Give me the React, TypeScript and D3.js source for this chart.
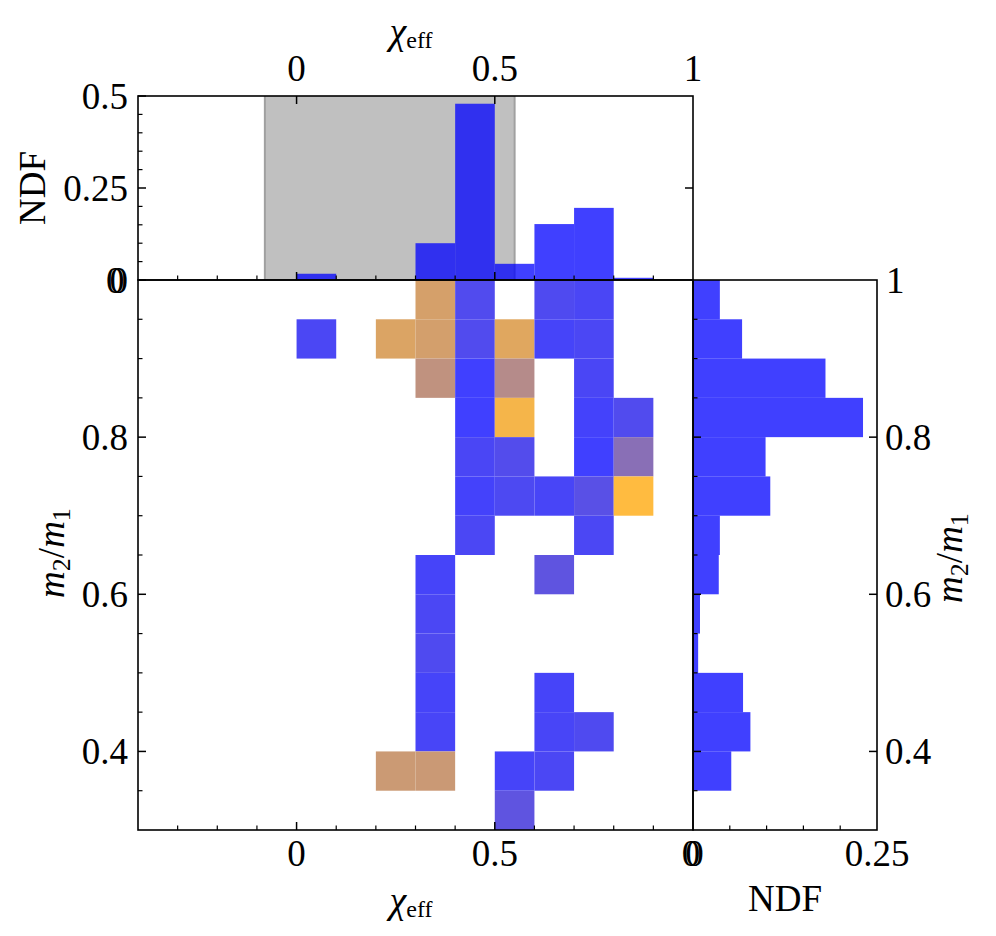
import React from 'react';
import * as d3 from 'd3';

// ---------- data ----------
// top marginal histogram (chi_eff bins, left edges) and normalized fractions
const chiTopBins = [0.0, 0.3, 0.4, 0.5, 0.6, 0.7, 0.8];
const chiTopNdf = [0.017, 0.1, 0.479, 0.044, 0.152, 0.196, 0.006];

// right marginal histogram (q = m2/m1 bins, lower edges) and fractions
const qRightBins = [0.95, 0.9, 0.85, 0.8, 0.75, 0.7, 0.65, 0.6, 0.55, 0.5, 0.45, 0.4, 0.35];
const qRightNdf = [0.0365, 0.0667, 0.18, 0.231, 0.0986, 0.105, 0.0365, 0.035, 0.0095, 0.007, 0.068, 0.078, 0.052];

// 2D histogram cells: chi bin (left edge), q bin (lower edge), share of the orange population
const cellChi = [
  0.3, 0.4, 0.6, 0.7,
  0.0, 0.2, 0.3, 0.4, 0.5, 0.6, 0.7,
  0.3, 0.4, 0.5, 0.7,
  0.4, 0.5, 0.7, 0.8,
  0.4, 0.5, 0.7, 0.8,
  0.4, 0.5, 0.6, 0.7, 0.8,
  0.4, 0.7,
  0.3, 0.6,
  0.3,
  0.3,
  0.3, 0.6,
  0.3, 0.6, 0.7,
  0.2, 0.3, 0.5, 0.6,
  0.5,
];
const cellQ = [
  0.95, 0.95, 0.95, 0.95,
  0.9, 0.9, 0.9, 0.9, 0.9, 0.9, 0.9,
  0.85, 0.85, 0.85, 0.85,
  0.8, 0.8, 0.8, 0.8,
  0.75, 0.75, 0.75, 0.75,
  0.7, 0.7, 0.7, 0.7, 0.7,
  0.65, 0.65,
  0.6, 0.6,
  0.55,
  0.5,
  0.45, 0.45,
  0.4, 0.4, 0.4,
  0.35, 0.35, 0.35, 0.35,
  0.3,
];
const cellOrange = [
  0.78, 0.09, 0.08, 0.05,
  0.06, 0.81, 0.77, 0.09, 0.84, 0.03, 0.06,
  0.67, 0.0, 0.61, 0.05,
  0.0, 0.95, 0.02, 0.09,
  0.05, 0.1, 0.0, 0.38,
  0.02, 0.07, 0.04, 0.13, 1.0,
  0.06, 0.06,
  0.03, 0.16,
  0.06,
  0.08,
  0.03, 0.03,
  0.04, 0.04, 0.08,
  0.73, 0.72, 0.03, 0.06,
  0.16,
];

const chiBinWidth = 0.1;
const qBinWidth = 0.05;
const grayBand = [-0.08, 0.55];

const chiMajorTicks = [0, 0.5];
const chiMajorLabels = ['0', '0.5'];
const chiTopLabelVals = [0, 0.5, 1];
const chiTopLabels = ['0', '0.5', '1'];
const qMajorTicks = [0.4, 0.6, 0.8];
const qMajorLabels = ['0.4', '0.6', '0.8'];
const ndfTopTicks = [0.25, 0.5];
const ndfTopLabels = ['0.25', '0.5'];
const ndfRightTicks = [0.25];
const ndfRightLabels = ['0.25'];

// ---------- layout ----------
const W = 996;
const H = 936;
const L = 138;
const M = 693;
const R = 877;
const T = 96;
const MY = 280;
const B = 830;
const FS = 37;
const FONT = "'Liberation Serif', 'Times New Roman', Times, serif";
const MAJ = 8;
const MIN = 4.5;

const x = d3.scaleLinear().domain([-0.4, 1]).range([L, M]);
const yTop = d3.scaleLinear().domain([0, 0.5]).range([MY, T]);
const yMain = d3.scaleLinear().domain([0.3, 1]).range([B, MY]);
const xR = d3.scaleLinear().domain([0, 0.25]).range([M, R]);
const mix = d3.interpolateRgb('#4040ff', '#ffbb40');

const isMajor = (v: number, majors: number[]) => majors.some((m) => Math.abs(m - v) < 1e-6);

function ChiLabel({ cx, baseline }: { cx: number; baseline: number }) {
  return (
    <text x={cx} y={baseline} textAnchor="middle" style={{ fontFamily: FONT, fill: '#000' }}>
      <tspan fontStyle="italic" fontSize={38} dy={-4}>χ</tspan>
      <tspan fontSize={24} dy={4}>eff</tspan>
    </text>
  );
}

function QLabel({ cx, cy }: { cx: number; cy: number }) {
  return (
    <text transform={`translate(${cx},${cy}) rotate(-90)`} textAnchor="middle" style={{ fontFamily: FONT, fill: '#000' }}>
      <tspan fontStyle="italic" fontSize={37}>m</tspan>
      <tspan fontSize={26} dy={6}>2</tspan>
      <tspan fontSize={37} dy={-6}>/</tspan>
      <tspan fontStyle="italic" fontSize={37}>m</tspan>
      <tspan fontSize={26} dy={6}>1</tspan>
    </text>
  );
}

export default function App() {
  const ticks: React.ReactElement[] = [];
  let k = 0;
  const tk = (x1: number, y1: number, x2: number, y2: number, major: boolean) => {
    ticks.push(
      <line key={'t' + k++} x1={x1} y1={y1} x2={x2} y2={y2} stroke="#000" strokeWidth={major ? 1.5 : 1.2} />
    );
  };

  // top panel left axis
  d3.range(0, 0.5001, 0.05).forEach((v) => {
    const mj = isMajor(v, [0, 0.25, 0.5]);
    tk(L, yTop(v), L + (mj ? MAJ : MIN), yTop(v), mj);
  });
  // top panel right axis
  ndfTopTicks.slice(0, 1).forEach((v) => tk(M, yTop(v), M - MAJ, yTop(v), true));
  // top panel top axis
  chiMajorTicks.forEach((v) => tk(x(v), T, x(v), T + MAJ, true));
  // top panel bottom + main bottom
  d3.range(-0.3, 0.95, 0.1).forEach((v) => {
    const mj = isMajor(v, chiMajorTicks);
    tk(x(v), MY, x(v), MY - (mj ? MAJ : MIN), mj);
    tk(x(v), B, x(v), B - (mj ? MAJ : MIN), mj);
  });
  // main left & right-panel left
  d3.range(0.35, 0.96, 0.05).forEach((v) => {
    const mj = isMajor(v, qMajorTicks);
    tk(L, yMain(v), L + (mj ? MAJ : MIN), yMain(v), mj);
    tk(M, yMain(v), M + (mj ? MAJ : MIN), yMain(v), mj);
  });
  // right panel right
  qMajorTicks.forEach((v) => tk(R, yMain(v), R - MAJ, yMain(v), true));
  // right panel bottom
  d3.range(0.05, 0.21, 0.05).forEach((v) => tk(xR(v), B, xR(v), B - MIN, false));

  const textStyle = { fontFamily: FONT, fontSize: FS, fill: '#000' } as const;

  return (
    <svg width={W} height={H} style={{ position: 'absolute', left: 0, top: 0, background: '#fff' }}>
      <rect x={0} y={0} width={W} height={H} fill="#fff" />

      {/* gray band */}
      <rect x={x(grayBand[0])} y={T} width={x(grayBand[1]) - x(grayBand[0])} height={MY - T} fill="#c0c0c0" />
      <line x1={x(grayBand[0])} x2={x(grayBand[0])} y1={T} y2={MY} stroke="#a0a0a0" strokeWidth={2} />
      <line x1={x(grayBand[1])} x2={x(grayBand[1])} y1={T} y2={MY} stroke="#a0a0a0" strokeWidth={2} />

      {/* top histogram */}
      {chiTopBins.map((c, i) => (
        <rect
          key={'tb' + i}
          x={x(c)}
          y={yTop(chiTopNdf[i])}
          width={x(c + chiBinWidth) - x(c)}
          height={yTop(0) - yTop(chiTopNdf[i])}
          fill="#0000ff"
          fillOpacity={0.75}
        />
      ))}

      {/* right histogram */}
      {qRightBins.map((q, i) => (
        <rect
          key={'rb' + i}
          x={xR(0)}
          y={yMain(q + qBinWidth)}
          width={xR(qRightNdf[i]) - xR(0)}
          height={yMain(q) - yMain(q + qBinWidth)}
          fill="#0000ff"
          fillOpacity={0.75}
        />
      ))}

      {/* 2D histogram */}
      {cellChi.map((c, i) => (
        <rect
          key={'c' + i}
          x={x(c)}
          y={yMain(cellQ[i] + qBinWidth)}
          width={x(c + chiBinWidth) - x(c)}
          height={yMain(cellQ[i]) - yMain(cellQ[i] + qBinWidth)}
          fill={mix(cellOrange[i])}
        />
      ))}

      {/* frames */}
      <rect x={L} y={T} width={M - L} height={MY - T} fill="none" stroke="#000" strokeWidth={1.6} />
      <rect x={L} y={MY} width={M - L} height={B - MY} fill="none" stroke="#000" strokeWidth={1.6} />
      <rect x={M} y={MY} width={R - M} height={B - MY} fill="none" stroke="#000" strokeWidth={1.6} />
      {ticks}

      {/* top tick labels */}
      {chiTopLabelVals.map((v, i) => (
        <text key={'tl' + i} x={x(v)} y={81} textAnchor="middle" style={textStyle}>
          {chiTopLabels[i]}
        </text>
      ))}
      {/* top panel y labels */}
      {ndfTopTicks.map((v, i) => (
        <text key={'ny' + i} x={128} y={yTop(v) + 12.5} textAnchor="end" style={textStyle}>
          {ndfTopLabels[i]}
        </text>
      ))}
      <text x={128} y={yTop(0) + 12.5} textAnchor="end" style={textStyle}>0</text>
      <text x={124.5} y={yTop(0) + 12.5} textAnchor="end" style={textStyle}>0</text>

      {/* main y labels */}
      {qMajorTicks.map((v, i) => (
        <text key={'ql' + i} x={128} y={yMain(v) + 12.5} textAnchor="end" style={textStyle}>
          {qMajorLabels[i]}
        </text>
      ))}
      {/* right y labels */}
      <text x={886} y={yMain(1) + 12.5} textAnchor="start" style={textStyle}>1</text>
      {qMajorTicks.map((v, i) => (
        <text key={'qr' + i} x={885} y={yMain(v) + 12.5} textAnchor="start" style={textStyle}>
          {qMajorLabels[i]}
        </text>
      ))}

      {/* bottom labels */}
      {chiMajorTicks.map((v, i) => (
        <text key={'bl' + i} x={x(v)} y={866} textAnchor="middle" style={textStyle}>
          {chiMajorLabels[i]}
        </text>
      ))}
      <text x={xR(0) - 2} y={866} textAnchor="middle" style={textStyle}>0</text>
      <text x={xR(0) + 1.5} y={866} textAnchor="middle" style={textStyle}>0</text>
      {ndfRightTicks.map((v, i) => (
        <text key={'nr' + i} x={xR(v)} y={866} textAnchor="middle" style={textStyle}>
          {ndfRightLabels[i]}
        </text>
      ))}

      {/* axis titles */}
      <ChiLabel cx={411} baseline={48} />
      <ChiLabel cx={411} baseline={917} />
      <text x={785} y={911} textAnchor="middle" style={textStyle}>NDF</text>
      <text transform="translate(45,188) rotate(-90)" textAnchor="middle" style={textStyle}>NDF</text>

      <QLabel cx={64} cy={553} />
      <QLabel cx={962} cy={558} />
    </svg>
  );
}
